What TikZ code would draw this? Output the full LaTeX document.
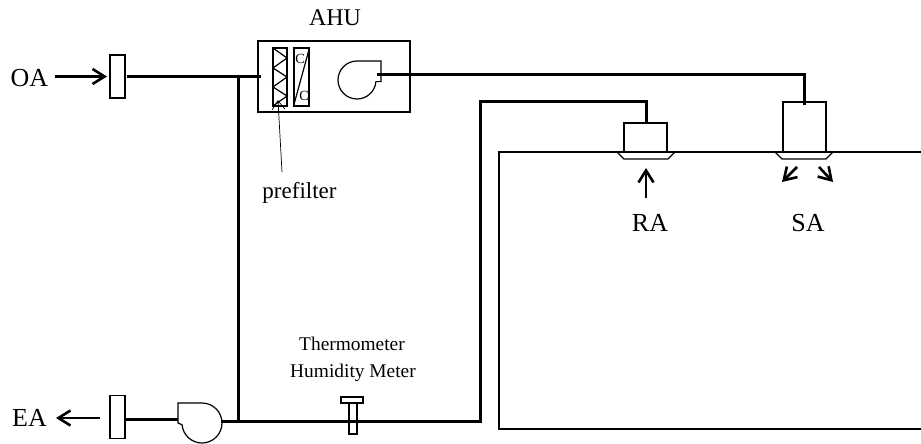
\documentclass[tikz,border=0pt]{standalone}
\usepackage{fontspec}
\setmainfont{Liberation Serif}
\usetikzlibrary{arrows.meta}
\tikzset{
  duct/.style={line width=3pt},
  outline/.style={draw,line width=1.2pt,fill=white,inner sep=0pt},
  damper/.style={outline,minimum width=15pt,minimum height=43pt},
  flow/.style={line width=2.6pt,-{Straight Barb[length=12pt,width=15pt,line width=2.6pt]}},
  label/.style={draw=none,inner sep=0pt},
}
\begin{document}
\begin{tikzpicture}[x=1pt,y=-1pt]
\useasboundingbox (0,0) rectangle (921,444);

% room
\draw[line width=1.2pt] (921,152) -- (499,152) -- (499,429) -- (921,429);

% air handling unit
\node [outline,minimum width=152pt,minimum height=71pt] (AHU) at (334,76.5) {};
\node [label,font=\fontsize{24}{24}\selectfont] (AHUlabel) at (335,18) {AHU};
\node [outline,minimum width=14pt,minimum height=58pt] (filter) at (280,77) {};
\node [outline,minimum width=15pt,minimum height=58pt] (coil) at (301.5,77) {};
\draw[line width=1.2pt] (273,48) -- (287,58) -- (273,68) -- (287,77) -- (273,87) -- (287,96) -- (273,106); % zigzag
\draw[line width=1.2pt] (coil.north east) -- (coil.south west);
\node [label,font=\fontsize{14}{14}\selectfont] (coilA) at (300,59) {C};
\node [label,font=\fontsize{14}{14}\selectfont] (coilB) at (304,96) {C};
\draw[line width=1.2pt] (357,61) arc[start angle=90,end angle=355,radius=19pt] -- (381,81.6) -- (381,61) -- cycle;

% prefilter pointer
\node [label,font=\fontsize{23}{23}\selectfont] (prefilter) at (299.5,193) {prefilter};
\coordinate (tip) at (278,100);
\draw[line width=0.7pt,-{Straight Barb[length=9pt,width=13pt,line width=0.7pt]}] (282,172) -- (tip);

% dampers
\node [damper] (OAdamper) at (117.5,76.5) {};
\node [damper] (EAdamper) at (117.5,417) {};
\node [label,font=\fontsize{26}{26}\selectfont] (OA) at (29.5,78) {OA};
\node [label,font=\fontsize{26}{26}\selectfont] (EA) at (29.5,418) {EA};
\coordinate (OAin) at (107,76.5);
\coordinate (EAout) at (56,418);
\draw[flow] (55,76.5) -- (OAin);
\draw[flow] (100,418) -- (EAout);

% exhaust fan
\draw[line width=1.2pt] (178,403) -- (202,403) arc[start angle=90,end angle=-175,radius=20pt] -- (178,423) -- cycle;

% meter
\node [outline,minimum width=8pt,minimum height=31pt] (stem) at (353,418.5) {};
\node [outline,minimum width=22pt,minimum height=6pt] (head) at (352,400) {};
\node [label,font=\fontsize{19.4}{20}\selectfont] (therm) at (352,344) {Thermometer};
\node [label,font=\fontsize{19.4}{20}\selectfont] (humid) at (353,373) {Humidity Meter};

% ducts
\coordinate (inA) at (238,76.5);
\coordinate (inB) at (238,421);
\coordinate (outA) at (804,75);
\coordinate (retA) at (480,101);
\coordinate (retB) at (646,101);
\coordinate (retC) at (480,421);
\draw[duct] (127,76.5) -- (261,76.5);
\draw[duct] (inA) -- (inB);
\draw[duct] (125,419) -- (178,419);
\draw[duct] (221,421) -- (retC) -- (retA) -- (retB) -- (646,123);
\draw[duct] (377,75) -- (outA) -- (804,105);

% terminals
\node [outline,minimum width=43pt,minimum height=29pt] (RAbox) at (645.5,137.5) {};
\node [outline,minimum width=43pt,minimum height=50pt] (SAbox) at (804.5,127) {};
\draw[duct] (804,96) -- (804,105);
\foreach \Point in {646,804}{
    \draw[line width=1.2pt] (\Point-29,152) -- (\Point+29,152) -- (\Point+22,159) -- (\Point-22,159) -- cycle;
}
\draw[flow] (646,198) -- (646,168);
\draw[flow] (797,167) -- (782,182);
\draw[flow] (819,167) -- (833,182);
\node [label,font=\fontsize{26}{26}\selectfont] (RA) at (650,223) {RA};
\node [label,font=\fontsize{26}{26}\selectfont] (SA) at (808,223) {SA};

\end{tikzpicture}
\end{document}
